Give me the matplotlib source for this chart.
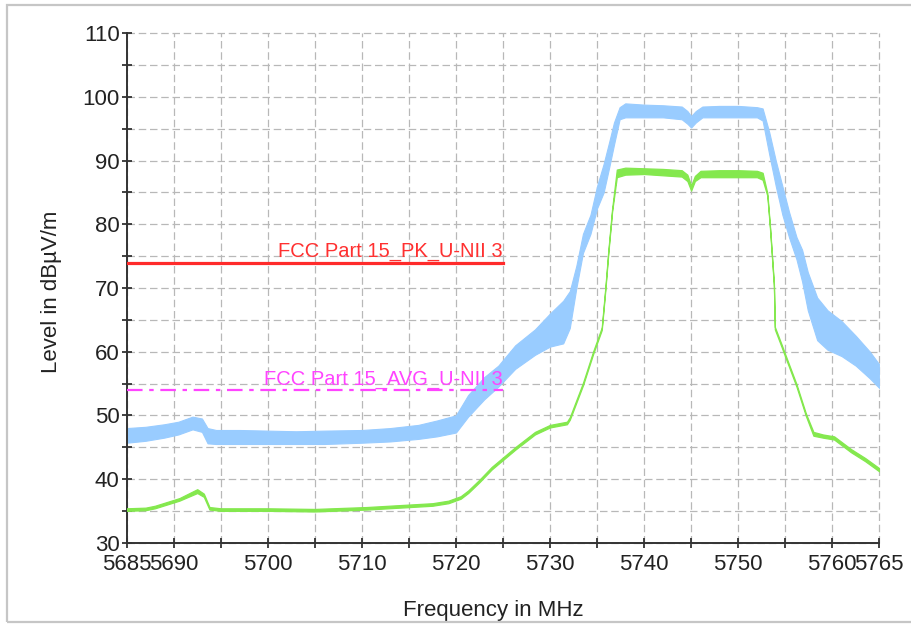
import matplotlib
matplotlib.use("Agg")
import matplotlib.pyplot as plt
from matplotlib.patches import Rectangle

plt.rcParams['font.family'] = ['Liberation Sans', 'DejaVu Sans']

# peak trace (blue): lower / upper envelope of the noisy band
peak_freq = [5685, 5687, 5689, 5690.5, 5692, 5693, 5693.6, 5694.5, 5697, 5700, 5703, 5706,
             5710, 5713, 5716, 5718, 5720, 5721.3, 5723, 5724.5, 5726.3, 5728.4, 5730,
             5731.4, 5732.1, 5732.8, 5733.5, 5734.3, 5735, 5735.7, 5736.3, 5736.8, 5737.4,
             5738, 5740, 5742, 5744, 5744.6, 5745, 5745.5, 5746.2, 5748, 5750, 5752,
             5752.6, 5753.3, 5754, 5754.7, 5755.4, 5756.2, 5756.8, 5757.4, 5758.4, 5759.5,
             5761, 5762.5, 5764, 5765]
peak_low = [45.7, 46.0, 46.5, 47.0, 47.8, 47.4, 45.6, 45.5, 45.5, 45.5, 45.5, 45.5,
            45.7, 45.9, 46.3, 46.7, 47.3, 49.8, 52.5, 54.5, 57.3, 59.5, 60.8,
            61.3, 63.7, 70.0, 75.5, 78.5, 82.5, 85.0, 89.0, 92.5, 96.5,
            96.8, 96.8, 96.8, 96.5, 95.8, 95.2, 96.0, 96.8, 96.8, 96.8, 96.8,
            96.3, 91.0, 86.0, 81.5, 78.0, 74.5, 71.0, 66.5, 61.8, 60.3,
            59.3, 57.8, 55.8, 54.3]
peak_high = [48.0, 48.2, 48.6, 49.0, 49.8, 49.5, 48.0, 47.7, 47.7, 47.6, 47.5, 47.6,
             47.7, 48.0, 48.5, 49.2, 50.0, 53.2, 56.0, 57.8, 61.0, 63.5, 66.0,
             68.0, 69.5, 73.5, 78.5, 81.5, 86.0, 89.5, 93.0, 96.0, 98.4,
             99.0, 98.8, 98.7, 98.5, 97.8, 97.0, 97.8, 98.5, 98.6, 98.6, 98.4,
             98.2, 94.5, 90.0, 86.0, 82.0, 78.0, 76.0, 72.5, 68.5, 66.5,
             64.8, 62.5, 60.0, 58.0]

# average trace (green)
avg_freq = [5685, 5687, 5688, 5690.6, 5692.5, 5693.2, 5693.8, 5695, 5700, 5705, 5710.5,
            5714, 5717.5, 5719.2, 5720.5, 5721.3, 5722.5, 5723.8, 5726.3, 5728.4, 5730,
            5731.8, 5732.1, 5733.5, 5734.6, 5735.5, 5735.9, 5736.2, 5736.6, 5737.1, 5738,
            5740, 5742, 5744, 5744.6, 5745, 5745.4, 5746, 5748, 5750, 5752, 5752.6,
            5753.1, 5753.4, 5753.8, 5753.9, 5754.6, 5755, 5756.2, 5757.2, 5758, 5759,
            5760.2, 5762, 5763.5, 5765]
avg_low = [35.0, 35.1, 35.4, 36.6, 37.8, 37.2, 35.2, 35.0, 35.0, 34.9, 35.2,
           35.5, 35.8, 36.2, 36.9, 37.8, 39.5, 41.5, 44.6, 47.0, 48.1,
           48.6, 49.3, 54.7, 59.7, 63.4, 70.0, 75.5, 82.0, 87.4, 87.8,
           87.9, 87.7, 87.5, 86.8, 85.3, 86.8, 87.4, 87.4, 87.4, 87.4, 87.0,
           84.5, 79.0, 70.3, 63.5, 60.8, 59.2, 54.5, 49.9, 46.8, 46.5,
           46.2, 44.2, 42.8, 41.2]
avg_high = [35.4, 35.5, 35.8, 37.0, 38.4, 37.7, 35.6, 35.4, 35.4, 35.3, 35.6,
            35.9, 36.2, 36.6, 37.3, 38.2, 39.9, 41.9, 45.0, 47.4, 48.5,
            49.0, 49.7, 55.1, 60.1, 63.8, 70.4, 75.9, 82.4, 88.6, 88.9,
            88.8, 88.7, 88.5, 87.8, 86.1, 87.6, 88.4, 88.5, 88.5, 88.4, 88.1,
            84.9, 79.4, 70.7, 63.9, 61.2, 59.6, 54.9, 50.3, 47.4, 47.0,
            46.7, 44.7, 43.3, 41.7]

# limit lines
limit_freq = [5685, 5725]
limit_pk = [74, 74]
limit_avg = [54, 54]
limit_pk_label = "FCC Part 15_PK_U-NII 3"
limit_avg_label = "FCC Part 15_AVG_U-NII 3"

x_ticks = list(range(5685, 5766, 5))
x_ticklabels = ["5685", "5690", "", "5700", "", "5710", "", "5720", "", "5730", "",
                "5740", "", "5750", "", "5760", "5765"]
y_ticks = list(range(30, 111, 5))
y_ticklabels = [str(v) if v % 10 == 0 else "" for v in y_ticks]

blue = '#99ccff'
green = '#84e84e'

fig = plt.figure(figsize=(9.12, 6.25), dpi=100)
ax = fig.add_axes([0.1389, 0.1317, 0.8252, 0.815])

ax.fill_between(peak_freq, peak_low, peak_high, color=blue, lw=0.8, zorder=2)
ax.fill_between(avg_freq, avg_low, avg_high, color=green, lw=0.9, zorder=3)

ax.plot(limit_freq, limit_pk, color='#ff2a2a', lw=2.3, zorder=4)
ax.plot(limit_freq, limit_avg, color='#ff44ff', lw=1.6, zorder=4,
        linestyle=(0, (7, 3, 2, 3)))
ax.text(limit_freq[1], limit_pk[0] + 0.85, limit_pk_label, color='#ff3030',
        fontsize=14.5, ha='right', va='baseline', zorder=5)
ax.text(limit_freq[1], limit_avg[0] + 0.85, limit_avg_label, color='#ff44ff',
        fontsize=14.5, ha='right', va='baseline', zorder=5)

ax.set_xlim(5685, 5765)
ax.set_ylim(30, 110)
ax.set_xticks(x_ticks)
ax.set_xticklabels(x_ticklabels)
ax.set_yticks(y_ticks)
ax.set_yticklabels(y_ticklabels)

ax.grid(True, color='#b8b8b8', linestyle=(0, (6, 3)), lw=0.9)
ax.set_axisbelow(True)
for gl in ax.get_xgridlines() + ax.get_ygridlines():
    gl.set_clip_on(False)

for side in ['top', 'right']:
    ax.spines[side].set_visible(False)
for side in ['left', 'bottom']:
    ax.spines[side].set_color('#333333')
    ax.spines[side].set_linewidth(1.4)

ax.tick_params(direction='inout', length=7, width=1.3, colors='#333333',
               labelcolor='#222222', labelsize=16)
ax.tick_params(axis='x', pad=5)
ax.tick_params(axis='y', pad=1.5)

fig.text(52 / 912, 1 - 292 / 625, "Level in dBµV/m", rotation=90, ha='center',
         va='center', fontsize=16, color='#222222')
fig.text(493 / 912, 1 - 616 / 625, "Frequency in MHz", ha='center', va='baseline',
         fontsize=16, color='#222222')

# outer frame
fig.add_artist(Rectangle((7 / 912, 1 - 622 / 625), 1.0, 617 / 625,
                         transform=fig.transFigure, fill=False, ec='#c6c6c6',
                         lw=1.6, clip_on=False, zorder=6))

fig.savefig('out.png', dpi=100)
